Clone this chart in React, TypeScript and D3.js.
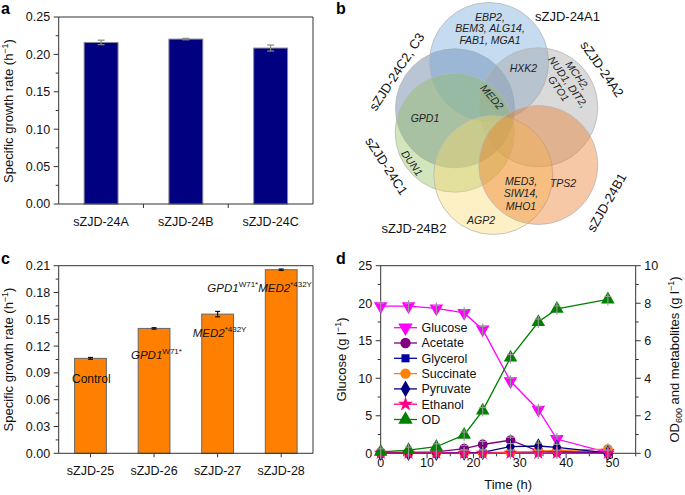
import React, { useEffect } from 'react';
import * as d3 from 'd3';

// ---------- Panel a data ----------
const aCategories = ['sZJD-24A', 'sZJD-24B', 'sZJD-24C'];
const aValues = [0.216, 0.2205, 0.2085];
const aErrors = [0.003, 0.001, 0.004];
const aYTicks = [0, 0.05, 0.1, 0.15, 0.2, 0.25];

// ---------- Panel c data ----------
const cCategories = ['sZJD-25', 'sZJD-26', 'sZJD-27', 'sZJD-28'];
const cValues = [0.1063, 0.1398, 0.1558, 0.2055];
const cErrors = [0.001, 0.0008, 0.003, 0.0008];
const cYTicks = [0, 0.03, 0.06, 0.09, 0.12, 0.15, 0.18, 0.21];

// ---------- Panel d data ----------
const dTimes = [0, 6, 12, 18, 22, 28, 34, 38, 49];
const glucose = [19.6, 19.6, 19.3, 18.7, 16.5, 9.6, 5.8, 1.9, 0.1];
const acetate = [0.05, 0.05, 0.08, 0.25, 0.47, 0.7, 0.12, 0.08, 0.05];
const glycerol = [0.0, 0.0, 0.0, 0.02, 0.03, 0.05, 0.08, 0.08, 0.03];
const succinate = [0.0, 0.0, 0.0, 0.0, 0.0, 0.05, 0.12, 0.15, 0.22];
const pyruvate = [0.0, 0.0, 0.0, 0.02, 0.05, 0.36, 0.39, 0.32, 0.02];
const ethanol = [0.01, 0.01, 0.01, 0.01, 0.01, 0.01, 0.01, 0.01, 0.01];
const od = [0.08, 0.17, 0.35, 0.98, 2.28, 5.1, 7.0, 7.7, 8.2];
const dSeriesNames = ['Glucose', 'Acetate', 'Glycerol', 'Succinate', 'Pyruvate', 'Ethanol', 'OD'];
const dXTicks = [0, 10, 20, 30, 40, 50];
const dLeftTicks = [0, 5, 10, 15, 20, 25];
const dRightTicks = [0, 2, 4, 6, 8, 10];

// ---------- Panel b data ----------
const vennSets = ['sZJD-24A1', 'sZJD-24A2', 'sZJD-24B1', 'sZJD-24B2', 'sZJD-24C1', 'sZJD-24C2, C3'];
const vennGenes = [
  ['EBP2,', 'BEM3, ALG14,', 'FAB1, MGA1'],
  ['HXK2'],
  ['MCH2,', 'NUD1, DIT2,', 'GTO1'],
  ['MED2'],
  ['GPD1'],
  ['DUN1'],
  ['MED3,', 'SIW14,', 'MHO1'],
  ['TPS2'],
  ['AGP2'],
];

const FONT = '"Liberation Sans", Arial, Helvetica, sans-serif';
const AX = '#333';

// layout (positions/styles)
const vennCircleLayout = [
  { cx: 489, cy: 62, fill: 'rgb(110,165,215)' }, // A1
  { cx: 538.3, cy: 107.3, fill: 'rgb(162,162,162)' }, // A2
  { cx: 538.3, cy: 165, fill: 'rgb(235,117,30)' }, // B1
  { cx: 493.3, cy: 175, fill: 'rgb(250,217,107)' }, // B2
  { cx: 454.7, cy: 132.7, fill: 'rgb(142,190,90)' }, // C1
  { cx: 455, cy: 108.3, fill: 'rgb(80,107,147)' }, // C2,C3
];
const vennDrawOrder = [5, 0, 1, 4, 3, 2];
const vennSetLabelLayout = [
  { x: 567.5, y: 16.5, a: 0 },
  { x: 602, y: 69, a: 55 },
  { x: 606.7, y: 202.5, a: -60 },
  { x: 414, y: 228.5, a: 0 },
  { x: 386.5, y: 166, a: 57 },
  { x: 396.7, y: 71.7, a: -57 },
];
const vennGeneLayout = [
  { x: 490, y: 28.5, a: 0, lh: 11.5 },
  { x: 523.5, y: 68.5, a: 0, lh: 11.5 },
  { x: 568, y: 82, a: 55, lh: 11.5 },
  { x: 492, y: 97, a: 50, lh: 11.5 },
  { x: 425, y: 118.5, a: 0, lh: 11.5 },
  { x: 412, y: 163, a: 55, lh: 11.5 },
  { x: 521, y: 193.5, a: 0, lh: 12.5 },
  { x: 563, y: 183.5, a: 0, lh: 11.5 },
  { x: 481, y: 220, a: 0, lh: 11.5 },
];

const dStyles = [
  { color: '#ff00ff', sym: d3.symbolTriangle, size: 80, rot: 180 },
  { color: '#800080', sym: d3.symbolCircle, size: 75, rot: 0 },
  { color: '#0000a0', sym: d3.symbolSquare, size: 55, rot: 0 },
  { color: '#ff8000', sym: d3.symbolCircle, size: 75, rot: 0 },
  { color: '#000080', sym: d3.symbolDiamond, size: 70, rot: 0 },
  { color: '#ff0080', sym: d3.symbolStar, size: 60, rot: 0 },
  { color: '#008000', sym: d3.symbolTriangle, size: 80, rot: 0 },
];

function range(a: number, b: number, s: number) {
  const out: number[] = [];
  for (let v = a; v <= b + 1e-9; v += s) out.push(+v.toFixed(6));
  return out;
}

function LeftAxis({ x, y, ticks, minor, fmt, top }: any) {
  return (
    <g>
      <line x1={x} x2={x} y1={y(ticks[0])} y2={top} stroke={AX} strokeWidth={1} />
      {minor.map((v: number, i: number) => (
        <line key={'m' + i} x1={x - 3} x2={x} y1={y(v)} y2={y(v)} stroke={AX} strokeWidth={1} />
      ))}
      {ticks.map((v: number, i: number) => (
        <g key={i}>
          <line x1={x - 5} x2={x} y1={y(v)} y2={y(v)} stroke={AX} strokeWidth={1} />
          <text x={x - 8.5} y={y(v) + 4.4} textAnchor="end" fontSize={12.5} fontFamily={FONT} fill="#111">
            {fmt(v)}
          </text>
        </g>
      ))}
    </g>
  );
}

function BarPanel({ cats, vals, errs, yTicks, yMax, minorStep, box, fill, stroke, errColor, capW, tickMode, fmt, yLabelY, children }: any) {
  const n = cats.length;
  const pi = n === 3 ? 0.6 : 0.5;
  const po = pi / 2;
  const x = d3.scaleBand().domain(cats).range([box.l, box.r]).paddingInner(pi).paddingOuter(po);
  const y = d3.scaleLinear().domain([0, yMax]).range([box.b, box.t]);
  const minor = range(0, yMax, minorStep).filter((v) => !yTicks.some((t: number) => Math.abs(t - v) < 1e-9));
  const xTicks =
    tickMode === 'bound'
      ? d3.range(1, n).map((k) => box.l + k * ((box.r - box.l) / n))
      : cats.map((c: string) => (x(c) as number) + x.bandwidth() / 2);
  return (
    <g>
      {cats.map((c: string, i: number) => (
        <rect key={c} x={x(c)} y={y(vals[i])} width={x.bandwidth()} height={box.b - y(vals[i])} fill={fill} stroke={stroke} strokeWidth={1} />
      ))}
      {cats.map((c: string, i: number) => {
        const cx = (x(c) as number) + x.bandwidth() / 2;
        const y1 = y(vals[i] + errs[i]);
        const y2 = y(vals[i] - errs[i]);
        return (
          <g key={'e' + c} stroke={errColor} strokeWidth={1.2}>
            <line x1={cx} x2={cx} y1={y1} y2={y2} />
            <line x1={cx - capW / 2} x2={cx + capW / 2} y1={y1} y2={y1} />
            <line x1={cx - capW / 2} x2={cx + capW / 2} y1={y2} y2={y2} />
          </g>
        );
      })}
      <line x1={box.l} x2={box.r} y1={box.t} y2={box.t} stroke={AX} />
      <line x1={box.r} x2={box.r} y1={box.t} y2={box.b} stroke={AX} />
      <line x1={box.l} x2={box.r} y1={box.b} y2={box.b} stroke={AX} />
      {xTicks.map((t: number, i: number) => (
        <line key={'xt' + i} x1={t} x2={t} y1={box.b} y2={box.b + 4} stroke={AX} />
      ))}
      <LeftAxis x={box.l} y={y} ticks={yTicks} minor={minor} fmt={fmt} top={box.t} />
      {cats.map((c: string) => (
        <text key={'l' + c} x={(x(c) as number) + x.bandwidth() / 2} y={box.b + 21.5} textAnchor="middle" fontSize={12.5} fontFamily={FONT} fill="#111">
          {c}
        </text>
      ))}
      <text transform={`translate(13,${yLabelY}) rotate(-90)`} textAnchor="middle" fontSize={13} fontFamily={FONT} fill="#111">
        Specific growth rate (h
        <tspan dy={-5} fontSize={9}>−1</tspan>
        <tspan dy={5}>)</tspan>
      </text>
      {children}
    </g>
  );
}

function PanelD() {
  const box = { l: 380.7, r: 635.7, t: 265.7, b: 453.3 };
  const x = d3.scaleLinear().domain([0, 55]).range([box.l, box.r]);
  const yL = d3.scaleLinear().domain([0, 25]).range([box.b, box.t]);
  const yR = d3.scaleLinear().domain([0, 10]).range([box.b, box.t]);
  const series = [glucose, acetate, glycerol, succinate, pyruvate, ethanol, od];
  const scales = [yL, yR, yR, yR, yR, yR, yR];
  const xMinor = range(5, 55, 10);
  const lMinor = range(2.5, 22.5, 5);
  const rMinor = range(1, 9, 2);
  const lineGen = (yy: any) =>
    d3
      .line<number>()
      .x((_, i) => x(dTimes[i]))
      .y((v) => yy(v));
  const order = [0, 1, 2, 3, 4, 5, 6];
  return (
    <g>
      <line x1={box.l} x2={box.r} y1={box.t} y2={box.t} stroke={AX} />
      <line x1={box.l} x2={box.r} y1={box.b} y2={box.b} stroke={AX} />
      <line x1={box.l} x2={box.l} y1={box.t} y2={box.b} stroke={AX} />
      <line x1={box.r} x2={box.r} y1={box.t} y2={box.b} stroke={AX} />
      {dXTicks.map((t) => (
        <g key={'x' + t}>
          <line x1={x(t)} x2={x(t)} y1={box.b} y2={box.b + 5} stroke={AX} />
          <text x={x(t)} y={466.5} textAnchor="middle" fontSize={12.5} fontFamily={FONT} fill="#111">
            {t}
          </text>
        </g>
      ))}
      {xMinor.map((t) => (
        <line key={'xm' + t} x1={x(t)} x2={x(t)} y1={box.b} y2={box.b + 3} stroke={AX} />
      ))}
      {dLeftTicks.map((t) => (
        <g key={'l' + t}>
          <line x1={box.l - 5} x2={box.l} y1={yL(t)} y2={yL(t)} stroke={AX} />
          <text x={box.l - 8.5} y={yL(t) + 4.4} textAnchor="end" fontSize={12.5} fontFamily={FONT} fill="#111">
            {t}
          </text>
        </g>
      ))}
      {lMinor.map((t) => (
        <line key={'lm' + t} x1={box.l - 3} x2={box.l} y1={yL(t)} y2={yL(t)} stroke={AX} />
      ))}
      {dRightTicks.map((t) => (
        <g key={'r' + t}>
          <line x1={box.r} x2={box.r + 5} y1={yR(t)} y2={yR(t)} stroke={AX} />
          <text x={box.r + 8.5} y={yR(t) + 4.4} textAnchor="start" fontSize={12.5} fontFamily={FONT} fill="#111">
            {t}
          </text>
        </g>
      ))}
      {rMinor.map((t) => (
        <line key={'rm' + t} x1={box.r} x2={box.r + 3} y1={yR(t)} y2={yR(t)} stroke={AX} />
      ))}
      <text x={(box.l + box.r) / 2} y={489} textAnchor="middle" fontSize={13} fontFamily={FONT} fill="#111">
        Time (h)
      </text>
      <text transform={`translate(346,${(box.t + box.b) / 2}) rotate(-90)`} textAnchor="middle" fontSize={13} fontFamily={FONT} fill="#111">
        Glucose (g l<tspan dy={-5} fontSize={9}>−1</tspan>
        <tspan dy={5}>)</tspan>
      </text>
      <text transform={`translate(679,${(box.t + box.b) / 2}) rotate(-90)`} textAnchor="middle" fontSize={13} fontFamily={FONT} fill="#111">
        OD<tspan dy={3} fontSize={9}>600</tspan>
        <tspan dy={-3}> and metabolites (g l</tspan>
        <tspan dy={-5} fontSize={9}>−1</tspan>
        <tspan dy={5}>)</tspan>
      </text>
      {order.map((k) => (
        <path key={'p' + k} d={lineGen(scales[k])(series[k]) || ''} fill="none" stroke={dStyles[k].color} strokeWidth={1.3} />
      ))}
      {order.map((k) => (
        <g key={'mk' + k}>
          {series[k].map((v, i) => {
            const px = x(dTimes[i]);
            const py = scales[k](v);
            const sym = d3.symbol(dStyles[k].sym, dStyles[k].size)();
            return (
              <g key={i} transform={`translate(${px},${py})`}>
                <path d={sym || ''} transform={`rotate(${dStyles[k].rot})`} fill={dStyles[k].color} />
                <g stroke="#999" strokeWidth={1.1}>
                  <line x1={0} x2={0} y1={-6} y2={6} />
                  <line x1={-3.5} x2={3.5} y1={-3} y2={-3} />
                </g>
              </g>
            );
          })}
        </g>
      ))}
      {dSeriesNames.map((name, k) => {
        const ly = 327.7 + k * 15.3;
        const sym = d3.symbol(dStyles[k].sym, dStyles[k].size + 10)();
        return (
          <g key={'lg' + name}>
            <line x1={394} x2={417} y1={ly} y2={ly} stroke={dStyles[k].color} strokeWidth={1.3} />
            <path d={sym || ''} transform={`translate(405.5,${ly}) rotate(${dStyles[k].rot})`} fill={dStyles[k].color} />
            <text x={421.5} y={ly + 4.4} fontSize={12.5} fontFamily={FONT} fill="#111">
              {name}
            </text>
          </g>
        );
      })}
    </g>
  );
}

function PanelB() {
  const r = 59.5;
  return (
    <g>
      {vennDrawOrder.map((i) => {
        const c = vennCircleLayout[i];
        return <circle key={vennSets[i]} cx={c.cx} cy={c.cy} r={r} fill={c.fill} fillOpacity={0.4} stroke="#b8b8b8" strokeWidth={0.8} />;
      })}
      {vennSets.map((s, i) => {
        const L = vennSetLabelLayout[i];
        return (
          <text key={'s' + s} transform={`translate(${L.x},${L.y}) rotate(${L.a})`} y={4.5} textAnchor="middle" fontSize={13} fontFamily={FONT} fill="#111">
            {s}
          </text>
        );
      })}
      {vennGenes.map((lines, i) => {
        const L = vennGeneLayout[i];
        const n = lines.length;
        return (
          <text key={'g' + i} transform={`translate(${L.x},${L.y}) rotate(${L.a})`} textAnchor="middle" fontSize={10.5} fontStyle="italic" fontFamily={FONT} fill="#222">
            {lines.map((ln, j) => (
              <tspan key={j} x={0} y={(j - (n - 1) / 2) * L.lh + 3.7}>
                {ln}
              </tspan>
            ))}
          </text>
        );
      })}
    </g>
  );
}

export default function App() {
  useEffect(() => {
    document.body.style.margin = '0';
  }, []);
  const fmt2 = d3.format('.2f');
  const boxA = { l: 58.7, r: 313, t: 17, b: 204 };
  const boxC = { l: 58.7, r: 313, t: 265.7, b: 453.3 };
  return (
    <svg width={685} height={495} viewBox="0 0 685 495" style={{ position: 'absolute', left: 0, top: 0, background: '#fff' }}>
      <rect x={0} y={0} width={685} height={495} fill="#fff" />
      <text x={1} y={14} fontSize={16} fontWeight="bold" fontFamily={FONT}>a</text>
      <text x={336} y={14} fontSize={16} fontWeight="bold" fontFamily={FONT}>b</text>
      <text x={1} y={263.5} fontSize={16} fontWeight="bold" fontFamily={FONT}>c</text>
      <text x={336} y={264} fontSize={16} fontWeight="bold" fontFamily={FONT}>d</text>

      <BarPanel
        cats={aCategories}
        vals={aValues}
        errs={aErrors}
        yTicks={aYTicks}
        yMax={0.25}
        minorStep={0.025}
        box={boxA}
        fill="#000080"
        stroke="#8a8a9a"
        errColor="#888"
        capW={7}
        tickMode="bound"
        fmt={fmt2}
        yLabelY={111}
      />
      <BarPanel
        cats={cCategories}
        vals={cValues}
        errs={cErrors}
        yTicks={cYTicks}
        yMax={0.21}
        minorStep={0.015}
        box={boxC}
        fill="#ff8000"
        stroke="#666"
        errColor="#111"
        capW={5}
        tickMode="center"
        fmt={fmt2}
        yLabelY={359.5}
      >
        <text x={72} y={383} fontSize={12} fontFamily={FONT} fill="#111">Control</text>
        <text x={131} y={359.3} fontSize={11.5} fontFamily={FONT} fill="#111">
          <tspan fontStyle="italic">GPD1</tspan>
          <tspan dy={-5} fontSize={8}>W71*</tspan>
        </text>
        <text x={192.7} y={336.7} fontSize={11.5} fontFamily={FONT} fill="#111">
          <tspan fontStyle="italic">MED2</tspan>
          <tspan dy={-5} fontSize={8}>*432Y</tspan>
        </text>
        <text x={207.3} y={292} fontSize={11.5} fontFamily={FONT} fill="#111">
          <tspan fontStyle="italic">GPD1</tspan>
          <tspan dy={-5} fontSize={8}>W71*</tspan>
          <tspan dy={5} fontStyle="italic">MED2</tspan>
          <tspan dy={-5} fontSize={8}>*432Y</tspan>
        </text>
      </BarPanel>

      <PanelB />
      <PanelD />
    </svg>
  );
}
